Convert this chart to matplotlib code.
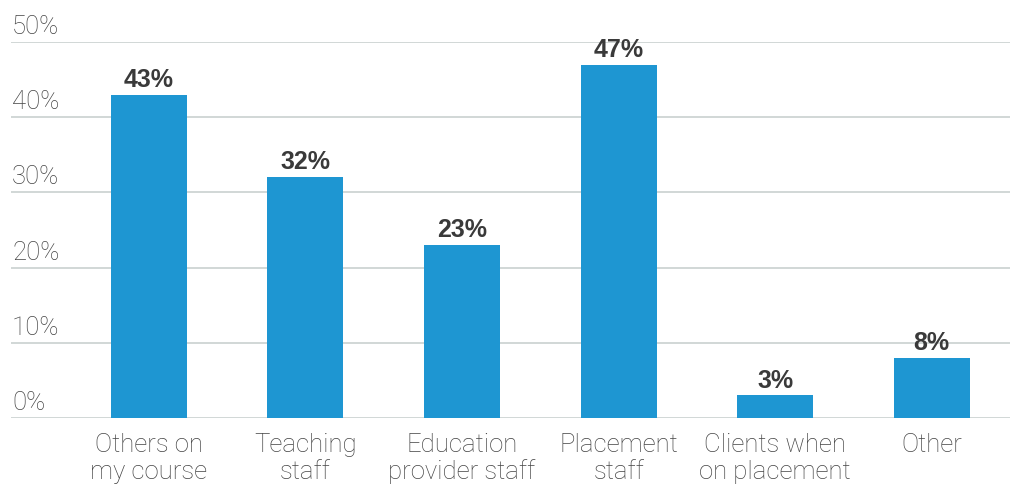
import matplotlib.pyplot as plt
import matplotlib.transforms as mtransforms

categories = ["Others on\nmy course", "Teaching\nstaff", "Education\nprovider staff",
              "Placement\nstaff", "Clients when\non placement", "Other"]
values = [43, 32, 23, 47, 3, 8]
y_ticks = [0, 10, 20, 30, 40, 50]

BAR_COLOR = "#1e96d2"
GRID_COLOR = "#c9d1cf"
TEXT_COLOR = "#444444"

plt.rcParams["font.family"] = ["Roboto", "DejaVu Sans"]

fig = plt.figure(figsize=(10.1, 4.86), dpi=100)
ax = fig.add_axes([0.011, 0.14, 0.989, 0.7736])

x = range(len(categories))
ax.bar(x, values, width=0.486, color=BAR_COLOR, zorder=3)

for xi, v in zip(x, values):
    ax.text(xi, v + 1.05, f"{v}%", ha="center", va="baseline", fontsize=18,
            fontweight="bold", color="#3a3a3a", family="Liberation Sans")

ax.set_xlim(-0.88, 5.5)
ax.set_ylim(0, 50)

# gridlines with labels sitting just above them on the left
trans = mtransforms.blended_transform_factory(ax.transAxes, ax.transData)
for t in y_ticks:
    ax.axhline(t, color=GRID_COLOR, linewidth=1.2, zorder=1)
    ax.text(0.001, t + 1.05, f"{t}%", transform=trans, ha="left", va="baseline",
            fontsize=18.5, fontweight="light", color=TEXT_COLOR)

ax.set_yticks([])
ax.set_xticks(list(x))
ax.set_xticklabels(categories, fontsize=18.5, fontweight="light", color=TEXT_COLOR,
                   linespacing=1.12)
ax.tick_params(axis="x", length=0, pad=11)
for s in ax.spines.values():
    s.set_visible(False)

fig.savefig("out.png", dpi=100)
